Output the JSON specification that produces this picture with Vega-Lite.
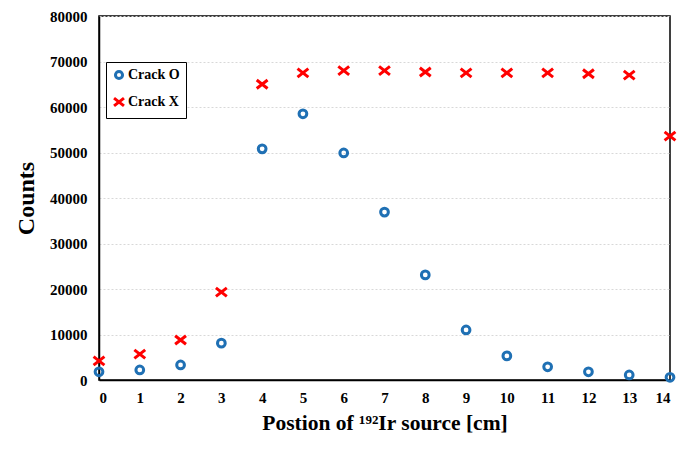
{
  "$schema": "https://vega.github.io/schema/vega-lite/v6.json",
  "autosize": {"type": "none"},
  "width": 571,
  "height": 364,
  "padding": {"left": 99, "top": 16, "right": 23, "bottom": 73},
  "background": "white",
  "config": {
    "view": {"stroke": "black", "strokeWidth": 1.5},
    "font": "Liberation Serif"
  },
  "data": {
    "values": [
      {"pos": 0, "series": "Crack O", "counts": 1800},
      {"pos": 1, "series": "Crack O", "counts": 2200},
      {"pos": 2, "series": "Crack O", "counts": 3300},
      {"pos": 3, "series": "Crack O", "counts": 8100},
      {"pos": 4, "series": "Crack O", "counts": 50800},
      {"pos": 5, "series": "Crack O", "counts": 58500},
      {"pos": 6, "series": "Crack O", "counts": 49900},
      {"pos": 7, "series": "Crack O", "counts": 36900},
      {"pos": 8, "series": "Crack O", "counts": 23100},
      {"pos": 9, "series": "Crack O", "counts": 11000},
      {"pos": 10, "series": "Crack O", "counts": 5300},
      {"pos": 11, "series": "Crack O", "counts": 2900},
      {"pos": 12, "series": "Crack O", "counts": 1800},
      {"pos": 13, "series": "Crack O", "counts": 1100},
      {"pos": 14, "series": "Crack O", "counts": 600},
      {"pos": 0, "series": "Crack X", "counts": 4200},
      {"pos": 1, "series": "Crack X", "counts": 5700},
      {"pos": 2, "series": "Crack X", "counts": 8800},
      {"pos": 3, "series": "Crack X", "counts": 19300},
      {"pos": 4, "series": "Crack X", "counts": 65000},
      {"pos": 5, "series": "Crack X", "counts": 67500},
      {"pos": 6, "series": "Crack X", "counts": 68000},
      {"pos": 7, "series": "Crack X", "counts": 68000},
      {"pos": 8, "series": "Crack X", "counts": 67700},
      {"pos": 9, "series": "Crack X", "counts": 67500},
      {"pos": 10, "series": "Crack X", "counts": 67500},
      {"pos": 11, "series": "Crack X", "counts": 67500},
      {"pos": 12, "series": "Crack X", "counts": 67300},
      {"pos": 13, "series": "Crack X", "counts": 67000},
      {"pos": 14, "series": "Crack X", "counts": 53600}
    ]
  },
  "mark": {"type": "point", "filled": false, "strokeWidth": 3, "size": 60, "opacity": 1, "clip": false},
  "encoding": {
    "x": {
      "field": "pos", "type": "quantitative",
      "scale": {"domain": [0, 14], "nice": false, "zero": false},
      "axis": {
        "title": "Postion of ¹⁹²Ir source [cm]",
        "values": [0,1,2,3,4,5,6,7,8,9,10,11,12,13,14],
        "grid": false, "ticks": false, "domain": true, "domainColor": "black", "domainWidth": 1.5,
        "labelFont": "Liberation Serif", "labelFontWeight": "bold", "labelFontSize": 15, "labelColor": "black",
        "labelPadding": 10,
        "titleFont": "Liberation Serif", "titleFontWeight": "bold", "titleFontSize": 21.5, "titleColor": "black",
        "titlePadding": 7
      }
    },
    "y": {
      "field": "counts", "type": "quantitative",
      "scale": {"domain": [0, 80000], "nice": false},
      "axis": {
        "title": "Counts", "format": "d",
        "values": [0,10000,20000,30000,40000,50000,60000,70000,80000],
        "grid": true, "gridColor": "#d8d8d8", "gridDash": [2, 2], "gridWidth": 1,
        "ticks": false, "domain": true, "domainColor": "black", "domainWidth": 1.5,
        "labelFont": "Liberation Serif", "labelFontWeight": "bold", "labelFontSize": 15, "labelColor": "black",
        "labelPadding": 12,
        "titleFont": "Liberation Serif", "titleFontWeight": "bold", "titleFontSize": 24, "titleColor": "black",
        "titlePadding": 11
      }
    },
    "color": {
      "field": "series", "type": "nominal",
      "scale": {"domain": ["Crack O", "Crack X"], "range": ["#1f70b4", "#ff0000"]},
      "legend": {
        "orient": "none", "legendX": 7, "legendY": 46, "title": null,
        "strokeColor": "black", "fillColor": "white", "padding": 6,
        "labelFont": "Liberation Serif", "labelFontWeight": "bold", "labelFontSize": 14, "labelColor": "black",
        "symbolSize": 50, "symbolStrokeWidth": 3, "labelOffset": 2, "rowPadding": 7, "symbolOffset": 0
      }
    },
    "shape": {
      "field": "series", "type": "nominal",
      "scale": {"domain": ["Crack O", "Crack X"], "range": ["circle", "M-1.4,-1.1L1.4,1.1M1.4,-1.1L-1.4,1.1"]},
      "legend": null
    }
  }
}
